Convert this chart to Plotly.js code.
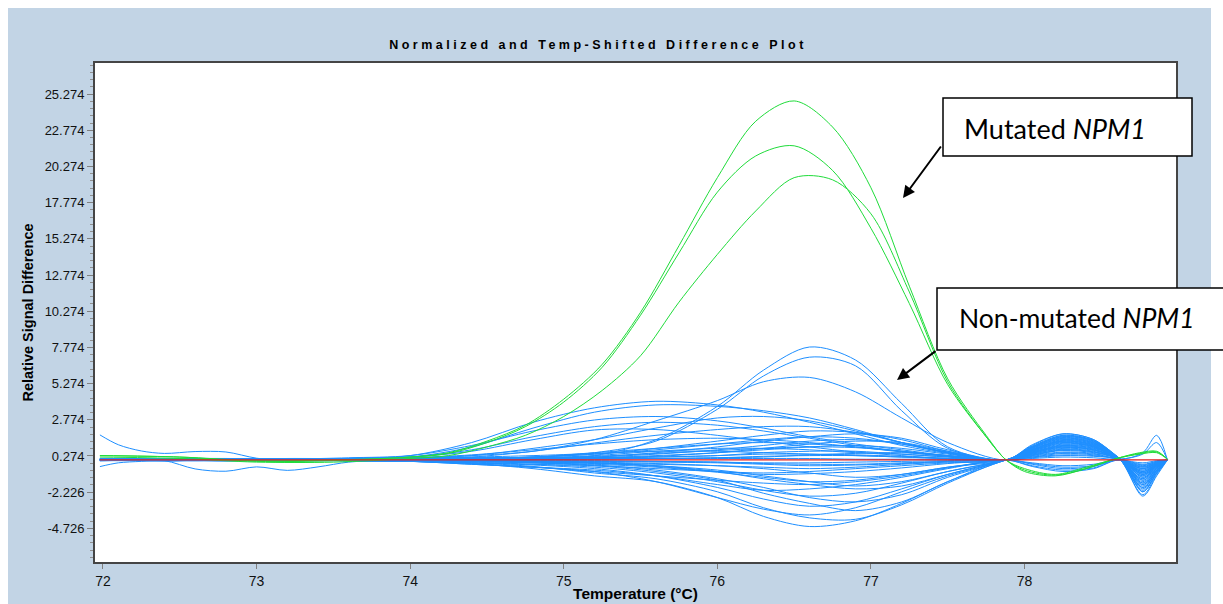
<!DOCTYPE html>
<html>
<head>
<meta charset="utf-8">
<script src="https://cdn.plot.ly/plotly-3.0.1.min.js"></script>
<style>
  html, body { margin: 0; padding: 0; background: #ffffff; }
  #plot { width: 1223px; height: 604px; }
  .gtitle { letter-spacing: 3.5px; }
</style>
</head>
<body>
<div id="plot"></div>
<script>
// Temperature grid (°C) shared by most difference curves
const blueX = [71.98, 72.4, 72.8, 73.2, 73.6, 74.0, 74.4, 74.8, 75.2, 75.6, 76.0, 76.3,
               76.6, 76.9, 77.2, 77.5, 77.88, 78.05, 78.25, 78.45, 78.62, 78.77, 78.86, 78.93];

// Non-mutated samples with the highest peaks
const tallBlue = [
  [0.10, 0.05, 0.00, 0.00, 0.05, 0.05, 0.00, 0.10, 0.30, 1.40, 3.70, 6.20, 7.80, 6.90, 3.90, 0.90, 0.00, 0.90, 1.70, 1.30, 0.05, -1.60, -0.60, 0.00],
  [0.05, 0.00, -0.05, 0.00, 0.05, 0.10, 0.10, 0.20, 0.50, 1.30, 3.50, 5.80, 7.10, 6.50, 3.40, 0.80, 0.00, 0.80, 1.50, 1.20, 0.05, -2.10, -0.90, 0.00],
  [0.00, -0.05, 0.00, 0.05, 0.10, 0.15, 0.30, 0.60, 1.40, 2.70, 4.10, 5.40, 5.70, 4.70, 2.90, 1.20, 0.00, 0.70, 1.40, 1.10, 0.05, -1.30, -0.40, 0.00]
];

// Broad positive humps
const upperBlue = [
  [0.05, 0.10, 0.05, 0.00, 0.10, 0.30, 1.20, 2.60, 3.60, 4.05, 3.80, 3.30, 2.60, 1.80, 1.00, 0.45, 0.00, 0.90, 1.60, 1.30, 0.10, -0.80, -0.30, 0.00],
  [0.00, 0.05, 0.05, 0.05, 0.10, 0.20, 0.90, 2.20, 3.30, 3.80, 3.70, 3.40, 2.90, 2.10, 1.20, 0.55, 0.00, 1.00, 1.80, 1.40, 0.10, -1.10, -0.40, 0.00],
  [0.10, 0.05, 0.00, 0.05, 0.15, 0.30, 1.00, 2.00, 2.76, 3.00, 2.70, 2.20, 1.60, 1.10, 0.70, 0.30, 0.00, 0.70, 1.30, 1.00, 0.05, -0.50, -0.20, 0.00],
  [0.05, 0.00, 0.00, 0.05, 0.05, 0.10, 0.30, 0.80, 1.40, 2.20, 2.90, 3.00, 2.70, 2.00, 1.20, 0.50, 0.00, 0.85, 1.55, 1.20, 0.05, -1.90, -0.80, 0.00],
  [0.00, 0.05, 0.10, 0.05, 0.10, 0.20, 0.70, 1.60, 2.30, 2.60, 2.40, 2.00, 1.50, 1.00, 0.60, 0.25, 0.00, 0.60, 1.10, 0.90, 0.05, -0.70, -0.30, 0.00],
  [0.05, 0.05, 0.00, 0.00, 0.05, 0.05, 0.20, 0.60, 1.17, 1.70, 2.10, 2.30, 2.30, 1.90, 1.20, 0.50, 0.00, 0.95, 1.70, 1.35, 0.10, -1.40, -0.60, 0.00],
  [0.00, 0.00, 0.05, 0.10, 0.10, 0.20, 0.60, 1.40, 2.07, 2.10, 1.70, 1.30, 0.90, 0.55, 0.30, 0.10, 0.00, 0.50, 0.90, 0.70, 0.05, -0.40, -0.15, 0.00],
  [0.05, 0.00, 0.00, 0.00, 0.05, 0.05, 0.05, 0.10, 0.20, 0.50, 0.90, 1.30, 1.60, 1.80, 1.50, 0.70, 0.00, 0.80, 1.45, 1.15, 0.05, -2.40, -1.00, 0.00]
];

// Small humps around the baseline
const midBlue = [
  [0.05, 0.05, 0.00, 0.00, 0.05, 0.10, 0.10, 0.20, 0.40, 0.70, 1.10, 1.40, 1.60, 1.50, 1.10, 0.50, 0.00, 0.90, 1.65, 1.30, 0.10, -1.00, -0.40, 0.00],
  [0.00, 0.00, 0.05, 0.00, 0.00, 0.05, 0.05, 0.10, 0.20, 0.40, 0.70, 1.00, 1.30, 1.40, 1.10, 0.50, 0.00, 0.75, 1.40, 1.10, 0.05, -1.70, -0.70, 0.00],
  [0.05, 0.10, 0.05, 0.05, 0.10, 0.10, 0.15, 0.20, 0.50, 0.80, 1.10, 1.20, 1.10, 0.90, 0.60, 0.30, 0.00, 0.65, 1.20, 0.95, 0.05, -0.60, -0.20, 0.00],
  [0.00, -0.05, 0.00, 0.05, 0.00, 0.05, 0.05, 0.10, 0.15, 0.30, 0.50, 0.70, 0.90, 1.00, 0.80, 0.40, 0.00, 0.55, 1.00, 0.80, 0.05, -2.00, -0.80, 0.00],
  [0.05, 0.05, 0.10, 0.05, 0.05, 0.10, 0.15, 0.15, 0.30, 0.60, 0.80, 0.80, 0.70, 0.50, 0.40, 0.20, 0.00, 0.45, 0.85, 0.70, 0.05, -0.90, -0.35, 0.00],
  [0.00, 0.00, 0.00, 0.00, 0.05, 0.05, 0.05, 0.10, 0.10, 0.20, 0.30, 0.50, 0.60, 0.60, 0.40, 0.20, 0.00, 0.35, 0.70, 0.55, 0.05, -1.20, -0.50, 0.00],
  [0.05, 0.00, -0.05, 0.00, 0.00, 0.00, 0.05, 0.05, 0.10, 0.10, 0.15, 0.20, 0.35, 0.45, 0.50, 0.30, 0.00, 0.30, 0.55, 0.45, 0.05, 0.50, 1.70, 0.00],
  [0.00, 0.05, 0.00, 0.00, 0.00, 0.05, 0.05, 0.05, 0.10, 0.10, 0.15, 0.25, 0.30, 0.30, 0.20, 0.10, 0.00, 0.20, 0.35, 0.30, 0.05, -0.35, -0.10, 0.00],
  [0.05, 0.00, 0.00, -0.05, 0.00, 0.00, 0.00, 0.05, 0.05, 0.10, 0.10, 0.10, 0.10, 0.05, 0.05, 0.05, 0.00, 0.10, 0.20, 0.15, 0.05, 0.40, 1.20, 0.00],
  [0.00, -0.05, -0.05, 0.00, -0.05, -0.05, 0.00, -0.05, -0.10, -0.10, -0.15, -0.20, -0.20, -0.15, -0.10, -0.05, 0.00, -0.20, -0.40, -0.30, 0.00, -0.60, -0.25, 0.00]
];

// Curves staying close to zero
const nearZeroBlue = [
  [0.00, 0.00, 0.00, 0.05, 0.05, 0.05, 0.10, 0.15, 0.25, 0.45, 0.65, 0.80, 0.90, 0.85, 0.60, 0.30, 0.00, 0.60, 1.15, 0.90, 0.05, -0.50, -0.20, 0.00],
  [0.05, 0.00, 0.05, 0.00, 0.05, 0.05, 0.05, 0.10, 0.15, 0.25, 0.50, 0.80, 1.10, 1.30, 1.20, 0.60, 0.00, 0.70, 1.35, 1.05, 0.05, -1.30, -0.50, 0.00],
  [0.00, -0.05, 0.00, 0.00, 0.00, 0.00, -0.05, -0.05, -0.05, -0.10, -0.15, -0.25, -0.30, -0.30, -0.20, -0.10, 0.00, 0.40, 0.75, 0.60, 0.05, -0.20, -0.05, 0.00],
  [0.05, 0.05, 0.00, 0.00, 0.05, 0.05, 0.05, 0.10, 0.15, 0.20, 0.30, 0.40, 0.40, 0.35, 0.25, 0.10, 0.00, 0.50, 0.95, 0.75, 0.05, -1.00, -0.40, 0.00],
  [0.00, 0.00, 0.00, -0.05, 0.00, -0.05, -0.05, -0.10, -0.20, -0.45, -0.80, -1.00, -0.95, -0.80, -0.55, -0.25, 0.00, 0.15, 0.30, 0.25, 0.05, -0.90, -0.35, 0.00],
  [0.00, 0.00, 0.05, 0.05, 0.05, 0.10, 0.10, 0.20, 0.40, 0.80, 1.30, 1.70, 2.00, 1.90, 1.40, 0.60, 0.00, 1.05, 1.80, 1.40, 0.10, -0.60, -0.25, 0.00],
  [-0.05, 0.00, 0.00, 0.00, -0.05, -0.05, -0.10, -0.10, -0.20, -0.40, -0.80, -1.30, -1.70, -2.00, -1.80, -1.00, 0.00, 0.35, 0.65, 0.50, 0.05, -1.70, -0.70, 0.00],
  [0.05, 0.10, 0.10, 0.05, 0.10, 0.15, 0.20, 0.30, 0.45, 0.60, 0.60, 0.50, 0.40, 0.30, 0.20, 0.10, 0.00, 0.20, 0.45, 0.35, 0.05, -0.45, -0.15, 0.00]
];

// Negative dips
const lowerBlue = [
  [0.00, -0.05, 0.00, -0.05, -0.05, -0.10, -0.25, -0.60, -1.10, -1.50, -2.60, -3.90, -4.60, -4.20, -3.00, -1.50, 0.00, 0.50, 1.00, 0.80, 0.05, -2.50, -1.10, 0.00],
  [-0.05, 0.00, -0.05, -0.05, 0.00, -0.05, -0.20, -0.45, -0.90, -1.30, -2.20, -3.30, -4.00, -4.10, -3.10, -1.60, 0.00, 0.30, 0.70, 0.55, 0.05, -1.80, -0.70, 0.00],
  [0.00, 0.00, -0.05, 0.00, -0.05, -0.10, -0.30, -0.50, -0.80, -1.50, -2.60, -3.40, -3.80, -3.30, -2.20, -1.10, 0.00, 0.60, 1.20, 0.90, 0.05, -1.50, -0.60, 0.00],
  [0.05, 0.00, 0.00, -0.05, 0.00, -0.05, -0.10, -0.20, -0.40, -0.80, -1.40, -2.30, -3.00, -3.50, -2.90, -1.50, 0.00, -0.30, -0.60, -0.45, 0.00, -1.20, -0.50, 0.00],
  [0.00, -0.05, 0.00, 0.00, -0.05, -0.10, -0.20, -0.35, -0.60, -1.10, -1.90, -2.70, -3.20, -2.90, -2.00, -1.00, 0.00, 0.40, 0.80, 0.65, 0.05, -2.20, -0.90, 0.00],
  [-0.05, -0.05, 0.00, -0.05, -0.05, -0.05, -0.10, -0.20, -0.35, -0.70, -1.30, -1.90, -2.60, -2.90, -2.40, -1.20, 0.00, 0.70, 1.30, 1.00, 0.05, -0.90, -0.35, 0.00],
  [0.00, 0.00, 0.05, 0.00, 0.00, -0.05, -0.15, -0.30, -0.50, -0.90, -1.50, -2.10, -2.50, -2.30, -1.60, -0.80, 0.00, 0.45, 0.90, 0.70, 0.05, -1.60, -0.60, 0.00],
  [0.05, 0.00, 0.00, 0.00, -0.05, -0.10, -0.30, -0.50, -0.70, -1.10, -1.70, -2.10, -2.00, -1.70, -1.20, -0.60, 0.00, -0.45, -0.80, -0.60, 0.00, -0.80, -0.30, 0.00],
  [0.00, -0.05, -0.05, 0.00, 0.00, -0.05, -0.10, -0.15, -0.25, -0.40, -0.70, -1.10, -1.50, -1.80, -1.50, -0.80, 0.00, 0.55, 1.05, 0.85, 0.05, -1.90, -0.75, 0.00],
  [-0.05, 0.00, 0.00, -0.05, 0.00, -0.05, -0.10, -0.20, -0.30, -0.50, -0.85, -1.20, -1.50, -1.40, -1.00, -0.50, 0.00, 0.80, 1.50, 1.15, 0.05, -1.10, -0.45, 0.00],
  [0.00, 0.00, -0.05, -0.05, 0.00, 0.00, -0.05, -0.10, -0.15, -0.25, -0.40, -0.60, -0.90, -1.20, -1.00, -0.50, 0.00, 0.25, 0.50, 0.40, 0.05, -2.20, -0.90, 0.00],
  [0.00, 0.00, 0.00, 0.00, -0.05, -0.10, -0.20, -0.30, -0.40, -0.60, -0.80, -0.90, -0.80, -0.60, -0.40, -0.20, 0.00, 0.65, 1.25, 0.95, 0.05, -0.70, -0.25, 0.00],
  [0.00, 0.05, 0.00, 0.00, 0.00, -0.05, -0.10, -0.15, -0.20, -0.30, -0.40, -0.50, -0.60, -0.50, -0.30, -0.15, 0.00, 0.85, 1.60, 1.25, 0.05, -1.40, -0.55, 0.00],
  [0.05, 0.00, 0.00, 0.00, 0.00, 0.00, -0.05, -0.10, -0.10, -0.15, -0.20, -0.30, -0.40, -0.35, -0.25, -0.10, 0.00, -0.25, -0.50, -0.40, 0.00, -0.30, -0.10, 0.00]
];

// Two curves with extra structure at the low-temperature end (finer grid)
const earlyBlueX = [71.98, 72.1, 72.25, 72.4, 72.6, 72.8, 73.0, 73.2, 73.4, 73.6, 73.8, 74.0, 74.4, 74.8, 75.2,
                    75.6, 76.0, 76.3, 76.6, 76.9, 77.2, 77.5, 77.88, 78.05, 78.25, 78.45, 78.62, 78.77, 78.86, 78.93];
const earlyBlue = [
  [1.73, 1.05, 0.62, 0.45, 0.58, 0.55, 0.12, -0.05, 0.00, 0.05, 0.10, 0.15, 0.35, 0.70, 1.10, 1.40, 1.50, 1.40, 1.20, 0.90, 0.55, 0.25, 0.00, 0.70, 1.30, 1.05, 0.05, -0.80, -0.30, 0.00],
  [-0.46, -0.20, -0.10, -0.05, -0.62, -0.78, -0.48, -0.72, -0.48, -0.15, -0.05, -0.05, -0.25, -0.50, -0.80, -1.10, -1.40, -1.60, -1.70, -1.50, -1.10, -0.55, 0.00, -0.40, -0.70, -0.55, 0.00, -1.00, -0.40, 0.00]
];

// Mutated NPM1 samples
const greenX = [71.98, 72.5, 73.0, 73.5, 74.0, 74.25, 74.5, 74.75, 75.0, 75.25, 75.5, 75.75, 76.0, 76.25,
                76.5, 76.75, 77.0, 77.25, 77.5, 77.75, 77.88, 78.0, 78.2, 78.4, 78.6, 78.75, 78.86, 78.93];
const greenCurves = [
  [0.30, 0.20, -0.05, 0.00, 0.20, 0.50, 1.30, 2.40, 4.20, 6.60, 10.2, 14.8, 19.5, 23.4, 24.8, 23.0, 18.8, 12.0, 5.6, 1.7, 0.00, -0.60, -1.00, -0.50, 0.10, 0.45, 0.55, 0.05],
  [0.30, 0.20, -0.10, -0.05, 0.20, 0.45, 1.20, 2.30, 4.00, 6.40, 10.0, 14.3, 18.5, 21.0, 21.7, 20.0, 16.0, 10.8, 5.2, 1.6, 0.00, -0.70, -1.05, -0.60, 0.10, 0.50, 0.60, 0.05],
  [0.20, 0.10, -0.15, -0.15, 0.10, 0.30, 0.90, 1.70, 3.00, 4.80, 7.20, 10.9, 14.2, 17.2, 19.5, 19.35, 17.0, 11.6, 5.4, 1.6, 0.00, -0.80, -1.10, -0.60, 0.10, 0.40, 0.50, 0.05]
];

// Reference sample (flat after normalisation)
const redX = [71.98, 78.93];
const redY = [0, 0];

// Axis ticks
const xTickVals = [72, 73, 74, 75, 76, 77, 78];
const xTickText = ['72', '73', '74', '75', '76', '77', '78'];
const yTickVals = [25.274, 22.774, 20.274, 17.774, 15.274, 12.774, 10.274, 7.774, 5.274, 2.774, 0.274, -2.226, -4.726];
const yTickText = ['25.274', '22.774', '20.274', '17.774', '15.274', '12.774', '10.274', '7.774', '5.274', '2.774', '0.274', '-2.226', '-4.726'];

// ---- layout helpers (pixel -> paper fractions) ----
const W = 1223, H = 604;
const M = { l: 95, r: 47, t: 63, b: 42 };
const plotW = W - M.l - M.r, plotH = H - M.t - M.b;
const px2x = px => (px - M.l) / plotW;
const px2y = py => (H - M.b - py) / plotH;

const BLUE = '#1e8fff', GREEN = '#1fdc3a', RED = '#e01e1e';

const traces = [];
function addCurves(xs, list, color) {
  list.forEach(ys => traces.push({
    type: 'scatter', mode: 'lines', x: xs, y: ys,
    line: { color: color, width: 1, shape: 'spline', smoothing: 0.9 },
    hoverinfo: 'skip', showlegend: false
  }));
}
addCurves(blueX, lowerBlue, BLUE);
addCurves(blueX, nearZeroBlue, BLUE);
addCurves(blueX, midBlue, BLUE);
addCurves(blueX, upperBlue, BLUE);
addCurves(blueX, tallBlue, BLUE);
addCurves(earlyBlueX, earlyBlue, BLUE);
addCurves(greenX, greenCurves, GREEN);
traces.push({ type: 'scatter', mode: 'lines', x: redX, y: redY,
  line: { color: RED, width: 1.2 }, hoverinfo: 'skip', showlegend: false });

// minor tick positions on the y axis
const yMinor = [];
for (let v = -6.726; v < 27.3; v += 0.5) yMinor.push(+v.toFixed(3));

const layout = {
  width: W, height: H,
  margin: M,
  paper_bgcolor: '#c2d4e5',
  plot_bgcolor: '#ffffff',
  showlegend: false,
  title: {
    text: 'Normalized and Temp-Shifted Difference Plot',
    font: { family: 'Liberation Sans, Arial, sans-serif', size: 12.5, weight: 'bold', color: '#000' },
    xref: 'paper', x: px2x(598), xanchor: 'center',
    yref: 'container', y: 1 - 45 / H, yanchor: 'middle'
  },
  xaxis: {
    range: [71.948, 78.986],
    tickmode: 'array', tickvals: xTickVals, ticktext: xTickText,
    ticks: 'outside', ticklen: 5, tickcolor: '#808080', tickwidth: 1,
    tickfont: { family: 'Liberation Sans Narrow, Liberation Sans, Arial, sans-serif', size: 14, color: '#111' },
    showline: true, mirror: true, linecolor: '#454545', linewidth: 2,
    showgrid: false, zeroline: false,
    title: { text: 'Temperature (°C)', standoff: 0,
      font: { family: 'Liberation Sans Narrow, Liberation Sans, Arial, sans-serif', size: 15.5, weight: 'bold', color: '#000' } }
  },
  yaxis: {
    range: [-7.05, 27.42],
    tickmode: 'array', tickvals: yTickVals, ticktext: yTickText,
    ticks: 'outside', ticklen: 6, tickcolor: '#808080', tickwidth: 1,
    minor: { tickmode: 'array', tickvals: yMinor, ticks: 'outside', ticklen: 3, tickcolor: '#909090', showgrid: false },
    tickfont: { family: 'Liberation Sans, Arial, sans-serif', size: 13, color: '#111' },
    showline: true, mirror: true, linecolor: '#454545', linewidth: 2,
    showgrid: false, zeroline: false,
    title: { text: 'Relative Signal Difference', standoff: 8,
      font: { family: 'Liberation Sans, Arial, sans-serif', size: 14.5, weight: 'bold', color: '#000' } }
  },
  shapes: [
    // white margins around the coloured panel
    { type: 'rect', xref: 'paper', yref: 'paper', layer: 'below', line: { width: 0 }, fillcolor: '#fff',
      x0: px2x(0), x1: px2x(W), y0: px2y(0), y1: px2y(8) },
    { type: 'rect', xref: 'paper', yref: 'paper', layer: 'below', line: { width: 0 }, fillcolor: '#fff',
      x0: px2x(0), x1: px2x(8), y0: px2y(0), y1: px2y(H) },
    { type: 'rect', xref: 'paper', yref: 'paper', layer: 'below', line: { width: 0 }, fillcolor: '#fff',
      x0: px2x(1211), x1: px2x(W), y0: px2y(0), y1: px2y(H) },
    // label boxes
    { type: 'rect', xref: 'paper', yref: 'paper', layer: 'above', fillcolor: '#fff',
      line: { color: '#000', width: 1.5 },
      x0: px2x(943), x1: px2x(1192), y0: px2y(156), y1: px2y(98) },
    { type: 'rect', xref: 'paper', yref: 'paper', layer: 'above', fillcolor: '#fff',
      line: { color: '#000', width: 1.5 },
      x0: px2x(937), x1: px2x(1240), y0: px2y(350), y1: px2y(288) }
  ],
  annotations: [
    { text: 'Mutated <i>NPM1</i>', showarrow: false, xref: 'paper', yref: 'paper',
      x: px2x(962), y: px2y(128), xanchor: 'left', yanchor: 'middle',
      font: { family: 'Lato, Open Sans, sans-serif', size: 27, color: '#000' } },
    { text: 'Non-mutated <i>NPM1</i>', showarrow: false, xref: 'paper', yref: 'paper',
      x: px2x(957), y: px2y(318), xanchor: 'left', yanchor: 'middle',
      font: { family: 'Lato, Open Sans, sans-serif', size: 26.5, color: '#000' } },
    { text: '', showarrow: true, xref: 'paper', yref: 'paper',
      x: px2x(903), y: px2y(198), ax: 39, ay: -53,
      arrowhead: 2, arrowsize: 1.2, arrowwidth: 2, arrowcolor: '#000', standoff: 0 },
    { text: '', showarrow: true, xref: 'paper', yref: 'paper',
      x: px2x(897), y: px2y(380), ax: 40, ay: -30,
      arrowhead: 2, arrowsize: 1.2, arrowwidth: 2, arrowcolor: '#000', standoff: 0 }
  ]
};

Plotly.newPlot('plot', traces, layout, { displayModeBar: false, staticPlot: true });
</script>
</body>
</html>
